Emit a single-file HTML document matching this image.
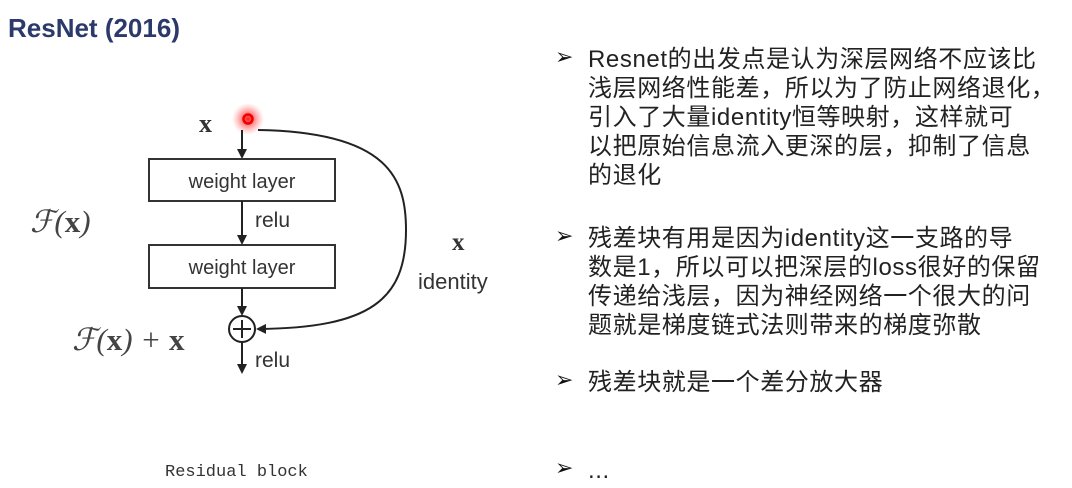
<!DOCTYPE html>
<html><head><meta charset="utf-8"><style>
body{margin:0;width:1072px;height:488px;background:#fff;position:relative;overflow:hidden;font-family:"Liberation Sans","Noto Sans CJK SC",sans-serif;}
.t{position:absolute;white-space:nowrap;}
.b{position:absolute;left:588px;font-size:24px;line-height:29px;color:#222;white-space:nowrap;letter-spacing:0.6px;font-family:"Liberation Sans","Noto Sans CJK SC",sans-serif;}
.ar{position:absolute;left:555px;font-size:22px;color:#111;font-family:"DejaVu Sans",sans-serif;}
</style></head><body>
<div class="t" style="left:8px;top:13px;font-size:26px;font-weight:bold;color:#2b3a6b;">ResNet (2016)</div>
<svg width="540" height="488" style="position:absolute;left:0;top:0" font-family="Liberation Serif, serif">
<defs><marker id="a" markerWidth="10" markerHeight="10" refX="8" refY="5" orient="auto" markerUnits="userSpaceOnUse"><path d="M0,0 L10,5 L0,10 z" fill="#222"/></marker>
<radialGradient id="g"><stop offset="0" stop-color="#f00" stop-opacity=".9"/><stop offset="1" stop-color="#f66" stop-opacity="0"/></radialGradient></defs>
<circle cx="248" cy="119" r="16" fill="url(#g)"/>
<circle cx="248" cy="119" r="4.5" fill="none" stroke="#e00" stroke-width="2.5"/>
<text x="199" y="132" font-size="26" font-weight="bold" fill="#333">x</text>
<line x1="242" y1="130" x2="242" y2="157" stroke="#222" stroke-width="2" marker-end="url(#a)"/>
<rect x="149" y="159" width="186" height="42" fill="#fff" stroke="#333" stroke-width="2"/>
<text x="242" y="188" font-size="20" text-anchor="middle" fill="#333" font-family="Liberation Sans, sans-serif">weight layer</text>
<line x1="242" y1="201" x2="242" y2="243" stroke="#222" stroke-width="2" marker-end="url(#a)"/>
<text x="255" y="227" font-size="21" fill="#333" font-family="Liberation Sans, sans-serif">relu</text>
<rect x="149" y="245" width="186" height="43" fill="#fff" stroke="#333" stroke-width="2"/>
<text x="242" y="274" font-size="20" text-anchor="middle" fill="#333" font-family="Liberation Sans, sans-serif">weight layer</text>
<line x1="242" y1="288" x2="242" y2="314" stroke="#222" stroke-width="2" marker-end="url(#a)"/>
<circle cx="242" cy="329" r="13" fill="#fff" stroke="#222" stroke-width="2"/>
<line x1="242" y1="320" x2="242" y2="338" stroke="#222" stroke-width="2"/>
<line x1="233" y1="329" x2="251" y2="329" stroke="#222" stroke-width="2"/>
<line x1="242" y1="342" x2="242" y2="372" stroke="#222" stroke-width="2" marker-end="url(#a)"/>
<text x="255" y="367" font-size="21" fill="#333" font-family="Liberation Sans, sans-serif">relu</text>
<path d="M258,130 C390,132 406,180 406,230 C406,300 370,328 258,329" fill="none" stroke="#222" stroke-width="2" marker-end="url(#a)"/>
<text x="30" y="232" font-size="31" fill="#444" font-style="italic">ℱ(<tspan font-weight="bold" font-style="normal">x</tspan>)</text>
<text x="72" y="350" font-size="31" fill="#444" font-style="italic">ℱ(<tspan font-weight="bold" font-style="normal">x</tspan>) + <tspan font-weight="bold" font-style="normal">x</tspan></text>
<text x="452" y="250" font-size="25" font-weight="bold" fill="#333">x</text>
<text x="418" y="289" font-size="22" fill="#333" font-family="Liberation Sans, sans-serif">identity</text>
<text x="165" y="476" font-size="17" fill="#333" font-family="Liberation Mono, monospace">Residual block</text>
</svg>
<div class="ar" style="top:45px">➢</div>
<div class="b" style="top:45px">Resnet的出发点是认为深层网络不应该比<br>浅层网络性能差，所以为了防止网络退化，<br>引入了大量identity恒等映射，这样就可<br>以把原始信息流入更深的层，抑制了信息<br>的退化</div>
<div class="ar" style="top:224px">➢</div>
<div class="b" style="top:224px">残差块有用是因为identity这一支路的导<br>数是1，所以可以把深层的loss很好的保留<br>传递给浅层，因为神经网络一个很大的问<br>题就是梯度链式法则带来的梯度弥散</div>
<div class="ar" style="top:368px">➢</div>
<div class="b" style="top:368px">残差块就是一个差分放大器</div>
<div class="ar" style="top:456px">➢</div>
<div class="b" style="top:456px">...</div>
</body></html>
